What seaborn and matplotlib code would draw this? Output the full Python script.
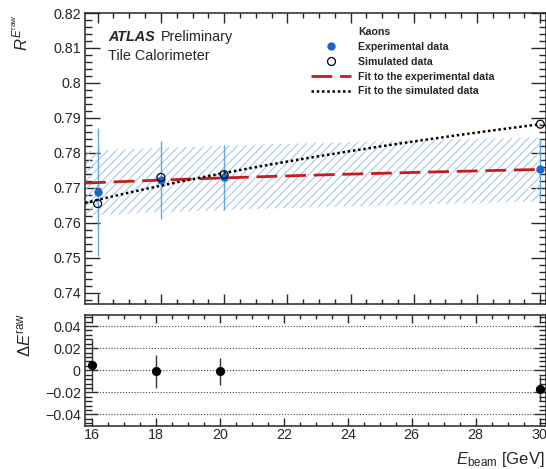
import numpy as np
import pandas as pd
import matplotlib
matplotlib.use("Agg")
import matplotlib.pyplot as plt
from matplotlib.lines import Line2D
from matplotlib.ticker import MultipleLocator
import seaborn as sns

# ---- data -------------------------------------------------------------
energy = [16, 18, 20, 30]                      # beam energy [GeV]
exp_resp = [0.7688, 0.7723, 0.7730, 0.7753]    # experimental R
exp_err = [0.0184, 0.0112, 0.0094, 0.0090]
sim_resp = [0.7655, 0.7730, 0.7738, 0.7882]    # simulated R
delta = [0.0045, -0.0010, -0.0010, -0.0166]    # relative difference
delta_err = [0.0236, 0.0147, 0.0122, 0.0110]

# fit R(E) = a + b*ln(E)
exp_fit_a, exp_fit_b = 0.7550, 0.00596
sim_fit_a, sim_fit_b = 0.6712, 0.0344
exp_fit_band = 0.0092
fit_range = (15.6, 30.0)

xtick_labels = ["16", "18", "20", "22", "24", "26", "28", "30"]

# ---- style ------------------------------------------------------------
sns.set_theme(style="ticks")
plt.rcParams["font.family"] = ["Liberation Sans", "DejaVu Sans"]
plt.rcParams["mathtext.fontset"] = "custom"
plt.rcParams["mathtext.rm"] = "Liberation Sans"
plt.rcParams["mathtext.it"] = "Liberation Sans:italic"
plt.rcParams["mathtext.bf"] = "Liberation Sans:bold"
plt.rcParams["hatch.linewidth"] = 0.8
plt.rcParams["axes.linewidth"] = 1.1

W, H = 546, 469
fig = plt.figure(figsize=(W / 100, H / 100), dpi=100)
ax1 = fig.add_axes([85 / W, 1 - 304 / H, 461 / W, 291 / H])
ax2 = fig.add_axes([85 / W, 1 - 425.5 / H, 461 / W, 110.5 / H])

exp_blue = "#1a66cc"
err_blue = "#5ea6e2"
hatch_blue = "#a9c9e9"
fit_red = "#cc1a1a"

# ---- top panel --------------------------------------------------------
xf = np.linspace(fit_range[0], fit_range[1], 200)
exp_curve = exp_fit_a + exp_fit_b * np.log(xf)
sim_curve = sim_fit_a + sim_fit_b * np.log(xf)
fits = pd.DataFrame({"E": xf, "exp": exp_curve, "sim": sim_curve})

ax1.fill_between(xf, exp_curve - exp_fit_band, exp_curve + exp_fit_band,
                 facecolor="none", edgecolor=hatch_blue, hatch="////",
                 linewidth=0, zorder=1)

ax1.errorbar(energy, exp_resp, yerr=exp_err, fmt="none", ecolor=err_blue,
             elinewidth=1.0, capsize=0, zorder=2)

sns.lineplot(data=fits, x="E", y="exp", ax=ax1, color=fit_red, lw=2.0,
             zorder=3).lines[-1].set_dashes((7.5, 2.8))
sns.lineplot(data=fits, x="E", y="sim", ax=ax1, color="black", lw=1.8,
             zorder=3).lines[-1].set_dashes((1.0, 1.1))

sns.scatterplot(x=energy, y=exp_resp, ax=ax1, color=exp_blue, s=36,
                edgecolor=exp_blue, linewidth=0, zorder=4)
sns.scatterplot(x=energy, y=sim_resp, ax=ax1, facecolor="none", s=32,
                edgecolor="black", linewidth=0.9, zorder=5)

ax1.set_xlim(15.6, 30.18)
ax1.set_ylim(0.7368, 0.82)
ax1.set_xlabel("")
ax1.set_ylabel("")
ax1.yaxis.set_minor_locator(MultipleLocator(0.002))
ax1.xaxis.set_major_locator(MultipleLocator(2))
ax1.xaxis.set_minor_locator(MultipleLocator(0.5))
ax1.set_yticks(np.arange(0.74, 0.8201, 0.01))
ax1.set_yticklabels(["0.74", "0.75", "0.76", "0.77", "0.78", "0.79",
                     "0.8", "0.81", "0.82"])
ax1.tick_params(axis="x", which="both", direction="in", top=True,
                bottom=True, labelbottom=False)
ax1.tick_params(axis="x", which="major", length=7, width=1)
ax1.tick_params(axis="x", which="minor", length=3.5, width=1)
ax1.tick_params(axis="y", which="both", direction="in", left=True,
                right=True, labelsize=10.3, pad=3)
ax1.tick_params(axis="y", which="major", length=11, width=1)
ax1.tick_params(axis="y", which="minor", length=5.3, width=1)

fig.text(108 / W, 1 - 37 / H, "ATLAS", fontsize=10.4, fontweight="bold",
         fontstyle="italic", va="center", ha="left")
fig.text(161 / W, 1 - 37 / H, "Preliminary", fontsize=10.4,
         va="center", ha="left")
fig.text(108 / W, 1 - 56.5 / H, "Tile Calorimeter", fontsize=10.4,
         va="center", ha="left")

fig.text(21.5 / W, 1 - 14 / H, r"$R^{E^{\mathrm{raw}}}$", fontsize=12,
         rotation=90, ha="center", va="top")

handles = [
    Line2D([], [], linestyle="none", marker="none"),
    Line2D([], [], linestyle="none", marker="o", color=exp_blue, ms=6.0,
           mew=0),
    Line2D([], [], linestyle="none", marker="o", mfc="none", mec="black",
           ms=5.7, mew=0.9),
    Line2D([], [], color=fit_red, lw=2.0, dashes=(7.5, 2.8)),
    Line2D([], [], color="black", lw=1.8, dashes=(1.0, 1.1)),
]
labels = ["Kaons", "Experimental data", "Simulated data",
          "Fit to the experimental data", "Fit to the simulated data"]
leg = ax1.legend(handles, labels, loc="upper left",
                 bbox_to_anchor=(311 / W, 1 - 27 / H),
                 bbox_transform=fig.transFigure, frameon=False,
                 prop={"size": 7.6, "weight": "bold"}, handlelength=3.75,
                 handletextpad=0.68, labelspacing=0.46, borderpad=0,
                 borderaxespad=0, numpoints=1)

# ---- ratio panel ------------------------------------------------------
for yv in [-0.04, -0.02, 0.0, 0.02, 0.04]:
    ax2.axhline(yv, color="#444444", lw=0.8, dashes=(1, 1.6), zorder=1)

ax2.errorbar(energy, delta, yerr=delta_err, fmt="none", ecolor="#333333",
             elinewidth=1.0, capsize=0, zorder=2)
sns.scatterplot(x=energy, y=delta, ax=ax2, color="black", s=44,
                linewidth=0, zorder=3)

ax2.set_xlim(15.78, 30.2)
ax2.set_ylim(-0.05, 0.05)
ax2.set_xticks([16, 18, 20, 22, 24, 26, 28, 30])
ax2.set_xticklabels(xtick_labels)
ax2.xaxis.set_minor_locator(MultipleLocator(0.5))
ax2.set_yticks([-0.04, -0.02, 0, 0.02, 0.04])
ax2.set_yticklabels(["\u22120.04", "\u22120.02", "0", "0.02", "0.04"])
ax2.yaxis.set_minor_locator(MultipleLocator(0.004))
ax2.tick_params(axis="x", which="both", direction="in", top=True,
                bottom=True, labelsize=10.3, pad=2)
ax2.tick_params(axis="x", which="major", length=6, width=1)
ax2.tick_params(axis="x", which="minor", length=3, width=1)
ax2.tick_params(axis="y", which="both", direction="in", left=True,
                right=True, labelsize=10.3, pad=3)
ax2.tick_params(axis="y", which="major", length=9, width=1)
ax2.tick_params(axis="y", which="minor", length=5, width=1)
ax2.set_xlabel("")
ax2.set_ylabel("")

fig.text(25 / W, 1 - 313 / H, "$\u0394E^{\\mathrm{raw}}$",
         fontsize=12, rotation=90, ha="center", va="top")
fig.text(545 / W, 1 - 459 / H, r"$E_{\mathrm{beam}}$ [GeV]", fontsize=12,
         ha="right", va="center")

fig.savefig("out.png", dpi=100)
